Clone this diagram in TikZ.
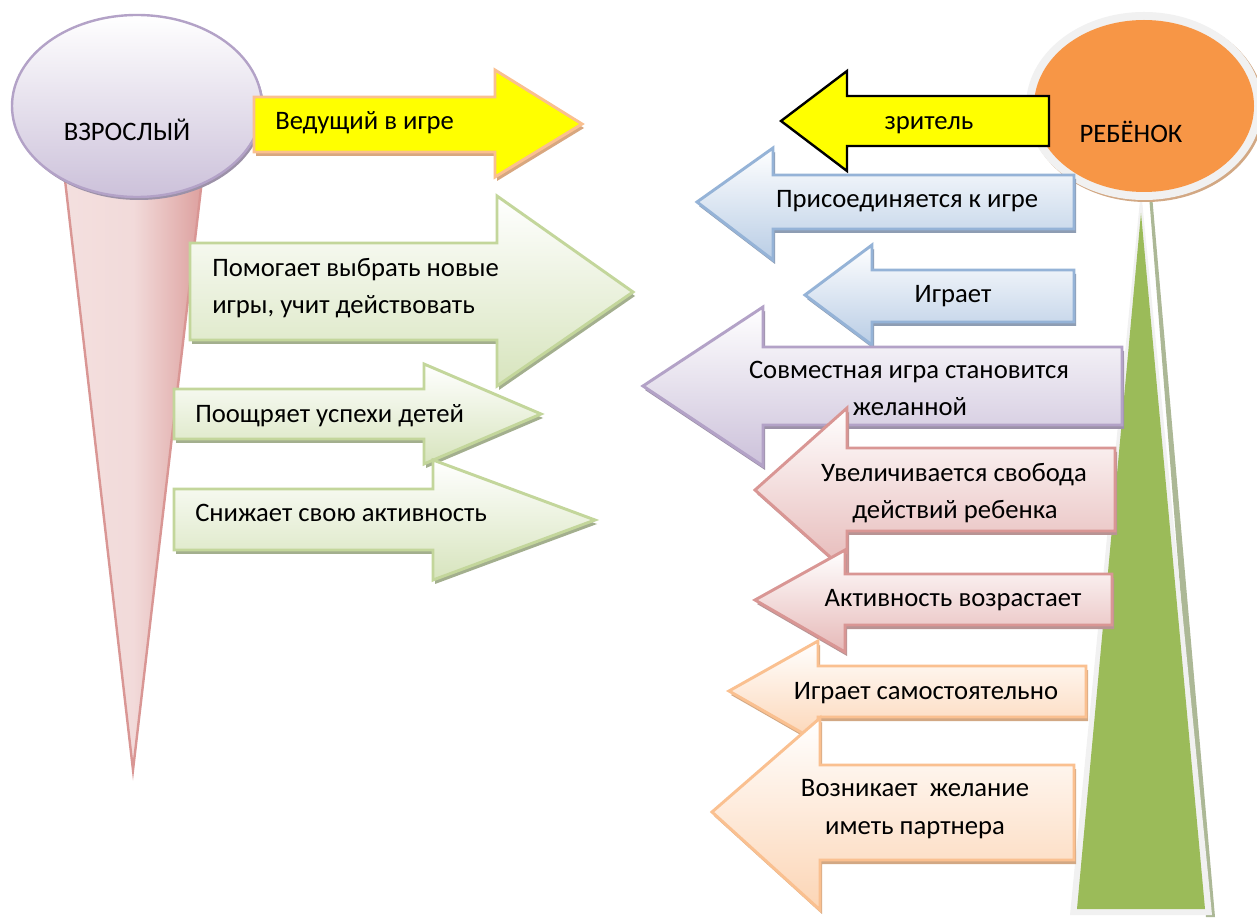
\documentclass[tikz,border=0pt]{standalone}
\usepackage{fontspec}
\setmainfont{Carlito}
\definecolor{gs}{HTML}{C3D69B}\definecolor{ge}{HTML}{D7E4BD}\definecolor{gd}{HTML}{A3AF8E}
\definecolor{bs}{HTML}{95B3D7}\definecolor{be}{HTML}{B9CDE5}\definecolor{bd}{HTML}{8E9DB3}
\definecolor{ps}{HTML}{B3A2C7}\definecolor{pe}{HTML}{CCC1DA}\definecolor{pd}{HTML}{9C91A8}
\definecolor{rs}{HTML}{D99694}\definecolor{re}{HTML}{E6B9B8}\definecolor{rd}{HTML}{B89494}
\definecolor{os}{HTML}{FAC090}\definecolor{oe}{HTML}{FCD5B5}\definecolor{od}{HTML}{D2A884}
\definecolor{ys}{HTML}{FAC090}\definecolor{yd}{HTML}{D8A77F}
\definecolor{pureyellow}{RGB}{255,255,0}
\definecolor{childorange}{RGB}{247,150,70}
\definecolor{treegreen}{RGB}{155,187,89}
\definecolor{halo}{RGB}{241,241,241}
\definecolor{treeshadow}{RGB}{172,184,150}
\tikzset{
 arr/.style={line width=2.2pt,line join=miter,miter limit=10},
 shgreen/.style={fill=gd},fagreen/.style={arr,draw=gs,top color=white,bottom color=ge},
 shblue/.style={fill=bd},fablue/.style={arr,draw=bs,top color=white,bottom color=be},
 shpurple/.style={fill=pd},fapurple/.style={arr,draw=ps,top color=white,bottom color=pe},
 shpink/.style={fill=rd},fapink/.style={arr,draw=rs,top color=white,bottom color=re},
 shorange/.style={fill=od},faorange/.style={arr,draw=os,top color=white,bottom color=oe},
 shyellow/.style={fill=yd},fayellow/.style={arr,draw=ys,fill=pureyellow},
 lab/.style={inner sep=0pt,font=\fontsize{20}{20}\selectfont,text height=.48em,text depth=0pt,anchor=center,yshift=-4.6pt},
 labl/.style={lab,anchor=west}
}
% #1 family, #2 tail x, #3 body top, #4 body bottom, #5 head x, #6 head top, #7 head bottom, #8 tip x, #9 tip y
\newcommand{\blockarrow}[9]{%
 \path[shift={(2,4)},sh#1] (#2,#3)--(#5,#3)--(#5,#6)--(#8,#9)--(#5,#7)--(#5,#4)--(#2,#4)--cycle;
 \path[fa#1] (#2,#3)--(#5,#3)--(#5,#6)--(#8,#9)--(#5,#7)--(#5,#4)--(#2,#4)--cycle;
}
\begin{document}
\begin{tikzpicture}[x=0.75pt,y=-0.75pt]
\useasboundingbox (0,0) rectangle (1257,919);
\fill[white] (0,0) rectangle (1257,919);
% adult
\path[line width=1.8pt,draw=rs,left color=rs!30!white,right color=rs!90!white,middle color=rs!35!white] (65,180)--(202,180)--(133,770)--cycle;
\fill[pd] (139,109) ellipse [x radius=125,y radius=91];
\path[line width=1.8pt,draw=ps,top color=white,bottom color=pe] (137,106) ellipse [x radius=125,y radius=91];
\node[lab] (adult) at (127,131) {ВЗРОСЛЫЙ};
% adult arrows
\blockarrow{yellow}{254}{97}{152}{495}{70}{177}{582}{124}
\node[labl] (a1) at (275,120) {Ведущий в игре};
\blockarrow{green}{190}{243}{340}{497}{196}{386}{633}{292}
\node[labl] (a2) at (212,267) {Помогает выбрать новые};
\node[labl] (a3) at (212,304) {игры, учит действовать};
\blockarrow{green}{174}{389}{439}{424}{364}{464}{541}{414}
\node[labl] (a4) at (195,413) {Поощряет успехи детей};
\blockarrow{green}{174}{489}{550}{433}{460}{580}{595}{520}
\node[labl] (a5) at (195,512) {Снижает свою активность};
% tall triangle
\fill[treeshadow] (1149,195)--(1152,195)--(1215,917)--(1206,917)--cycle;
\fill[halo] (1141,190)--(1212,915)--(1070,915)--cycle;
\fill[treegreen] (1141,213)--(1205,909)--(1077,909)--cycle;
% child
\fill[od] (1146,108) ellipse [x radius=118,y radius=94];
\fill[halo] (1144,106) ellipse [x radius=118,y radius=94];
\fill[childorange] (1144,106) ellipse [x radius=110,y radius=86];
\node[lab] (child) at (1131,133) {РЕБЁНОК};
% child arrows
\draw[line width=1.8pt,fill=pureyellow,line join=miter] (1049,96)--(847,96)--(847,71)--(781,121)--(847,171)--(847,146)--(1049,146)--cycle;
\node[lab] (c1) at (929,120) {зритель};
\blockarrow{blue}{1074}{175}{229}{773}{148}{260}{697}{202}
\node[lab] (c2) at (907,198) {Присоединяется к игре};
\blockarrow{blue}{1074}{270}{322}{872}{245}{345}{805}{295}
\node[lab] (c3) at (953,293) {Играет};
\blockarrow{purple}{1122}{347}{425}{763}{307}{466}{643}{386}
\node[lab] (c4) at (909,369) {Совместная игра становится};
\node[lab] (c5) at (910,406) {желанной};
\blockarrow{pink}{1115}{448}{531}{847}{408}{572}{755}{490}
\node[lab] (c6) at (954,472) {Увеличивается свобода};
\node[lab] (c7) at (955,509) {действий ребенка};
\blockarrow{pink}{1112}{574}{625}{845}{550}{652}{755}{600}
\node[lab] (c8) at (953,597) {Активность возрастает};
\blockarrow{orange}{1086}{666}{717}{818}{641}{742}{729}{691}
\node[lab] (c9) at (926,690) {Играет самостоятельно};
\blockarrow{orange}{1074}{765}{860}{820}{718}{910}{712}{812}
\node[lab] (c10) at (915,787) {Возникает \ желание};
\node[lab] (c11) at (915,825) {иметь партнера};
\end{tikzpicture}
\end{document}
